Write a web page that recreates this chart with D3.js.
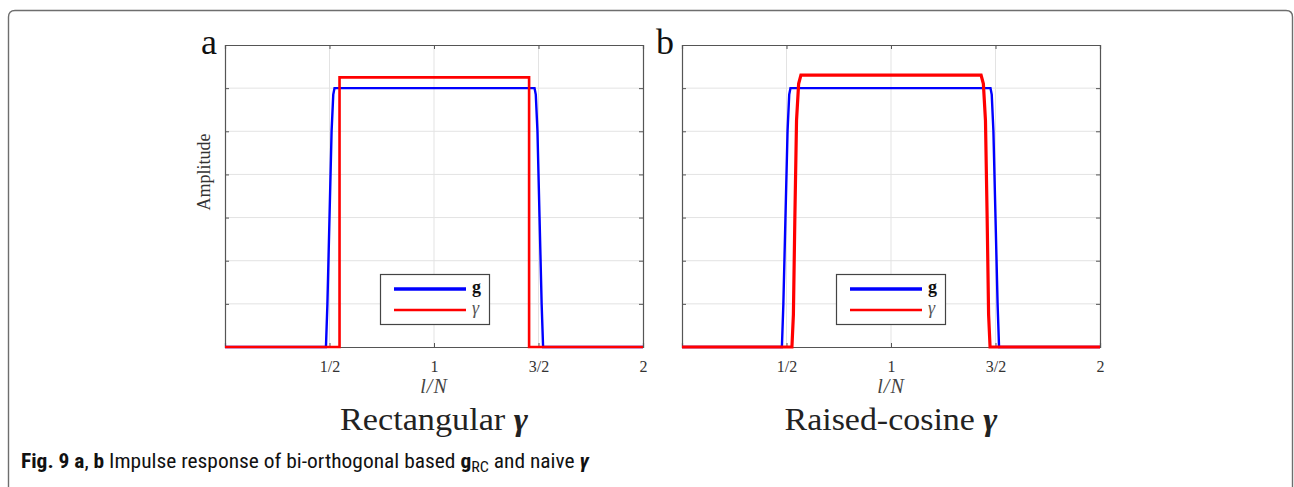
<!DOCTYPE html>
<html>
<head>
<meta charset="utf-8">
<script src="https://cdn.jsdelivr.net/npm/d3@7"></script>
<style>
	body { margin: 0; background: #fff; }
	svg { display: block; }
</style>
</head>
<body>
<script>

// ---- data ----
var xTicks = [0.5, 1, 1.5, 2]
var xTickLabels = ["1/2", "1", "3/2", "2"]
var yTicks = [0, 0.2, 0.4, 0.6, 0.8, 1.0, 1.2, 1.4]

// panel a : bi-orthogonal g vs rectangular gamma
var gA_x = [0, 0.483, 0.490, 0.500, 0.510, 0.518, 0.524, 1.481, 1.487, 1.495, 1.505, 1.515, 1.522, 2]
var gA_y = [0, 0, 0.2, 0.6, 1.0, 1.17, 1.2, 1.2, 1.17, 1.0, 0.6, 0.2, 0, 0]
var gammaA_x = [0, 0.548, 0.548, 1.455, 1.455, 2]
var gammaA_y = [0, 0, 1.25, 1.25, 0, 0]

// panel b : bi-orthogonal g vs raised-cosine gamma
var gB_x = [0, 0.478, 0.485, 0.495, 0.505, 0.513, 0.519, 1.476, 1.482, 1.490, 1.500, 1.510, 1.517, 2]
var gB_y = [0, 0, 0.2, 0.6, 1.0, 1.17, 1.2, 1.2, 1.17, 1.0, 0.6, 0.2, 0, 0]
var gammaB_x = [0, 0.526, 0.533, 0.540, 0.548, 0.558, 0.569, 1.431, 1.442, 1.452, 1.460, 1.467, 1.474, 2]
var gammaB_y = [0, 0, 0.15, 0.6, 1.05, 1.22, 1.26, 1.26, 1.22, 1.05, 0.6, 0.15, 0, 0]

var seriesNames = ["g", "\u03b3"]
var panelLetters = ["a", "b"]
var panelTitles = ["Rectangular", "Raised-cosine"]

// ---- layout ----
var svgWidth = 1294
var svgHeight = 487
var serif = "'Liberation Serif', 'DejaVu Serif', serif"

var svg = d3.select("body").append("svg")
	.attr("width", svgWidth)
	.attr("height", svgHeight)

// outer frame of the figure box
svg.append("path")
	.attr("d", "M8.5,487 L8.5,17 Q8.5,10.5 15,10.5 L1286,10.5 Q1292.5,10.5 1292.5,17 L1292.5,487")
	.style("fill", "none")
	.style("stroke", "#6e6e6e")
	.style("stroke-width", 1.4)

var y = d3.scaleLinear().domain([0, 1.4]).range([347, 45])

function zip(xs, ys) {
	return xs.map(function(d, i) { return [d, ys[i]] })
}

function drawPanel(left, idx, gX, gY, gamX, gamY, redWidth, legendX, titleLen) {
	var right = left + 418
	var x = d3.scaleLinear().domain([0, 2]).range([left, right])
	var g = svg.append("g")

	// grid
	g.append("g").selectAll("line").data(xTicks.slice(0, 3)).enter().append("line")
		.attr("x1", function(d) { return x(d) }).attr("x2", function(d) { return x(d) })
		.attr("y1", y(0)).attr("y2", y(1.4))
		.style("stroke", "#e3e3e3").style("stroke-width", 1)
	g.append("g").selectAll("line").data(yTicks.slice(1, 7)).enter().append("line")
		.attr("x1", left).attr("x2", right)
		.attr("y1", function(d) { return y(d) }).attr("y2", function(d) { return y(d) })
		.style("stroke", "#e3e3e3").style("stroke-width", 1)

	// axes box with inward ticks
	var axes = [
		[d3.axisBottom(x).tickValues(xTicks).tickSize(-4).tickFormat(function(d, i) { return xTickLabels[i] }), "translate(0," + y(0) + ")"],
		[d3.axisTop(x).tickValues(xTicks).tickSize(-4).tickFormat(""), "translate(0," + y(1.4) + ")"],
		[d3.axisLeft(y).tickValues(yTicks).tickSize(-4).tickFormat(""), "translate(" + left + ",0)"],
		[d3.axisRight(y).tickValues(yTicks).tickSize(-4).tickFormat(""), "translate(" + right + ",0)"]
	]
	axes.forEach(function(a, i) {
		var ax = g.append("g").attr("transform", a[1]).call(a[0])
		ax.select(".domain").style("stroke", "#555").style("stroke-width", 1.2)
		ax.selectAll(".tick line").style("stroke", "#555")
		if (i == 0) {
			ax.selectAll(".tick text")
				.attr("y", 25).attr("dy", null)
				.style("font-family", serif)
				.style("font-size", "16px")
				.style("fill", "#333")
		}
	})

	var line = d3.line()
		.x(function(d) { return x(d[0]) })
		.y(function(d) { return y(d[1]) })

	g.append("path").datum(zip(gX, gY))
		.attr("d", line)
		.style("fill", "none").style("stroke", "#0000ff").style("stroke-width", 2.4)
	g.append("path").datum(zip(gamX, gamY))
		.attr("d", line)
		.style("fill", "none").style("stroke", "#ff0000").style("stroke-width", redWidth)

	// legend
	var lg = g.append("g").attr("transform", "translate(" + legendX + ",274)")
	lg.append("rect").attr("x", 0.5).attr("y", 0.5).attr("width", 109).attr("height", 50)
		.style("fill", "#fff").style("stroke", "#444").style("stroke-width", 1.2)
	lg.append("line").attr("x1", 14).attr("x2", 86).attr("y1", 15).attr("y2", 15)
		.style("stroke", "#0000ff").style("stroke-width", 3.5)
	lg.append("line").attr("x1", 14).attr("x2", 86).attr("y1", 36).attr("y2", 36)
		.style("stroke", "#ff0000").style("stroke-width", 2.5)
	lg.append("text").attr("x", 92).attr("y", 19).text(seriesNames[0])
		.style("font-family", serif).style("font-weight", "bold").style("font-size", "18px").style("fill", "#111")
	lg.append("text").attr("x", 92).attr("y", 40).text(seriesNames[1])
		.style("font-family", serif).style("font-style", "italic").style("font-size", "18px").style("fill", "#555")

	// labels
	g.append("text").attr("x", left - 8).attr("y", 54).attr("text-anchor", "end")
		.text(panelLetters[idx])
		.style("font-family", serif).style("font-size", "36px").style("fill", "#111")
	g.append("text").attr("x", x(1)).attr("y", 393).attr("text-anchor", "middle")
		.text("l/N")
		.style("font-family", serif).style("font-style", "italic").style("font-size", "20px")
		.style("letter-spacing", "1px").style("fill", "#444")
	var t = g.append("text").attr("x", x(1)).attr("y", 430).attr("text-anchor", "middle")
		.attr("textLength", titleLen).attr("lengthAdjust", "spacingAndGlyphs")
		.style("font-family", serif).style("font-size", "31px").style("fill", "#222")
	t.append("tspan").text(panelTitles[idx] + " ")
	t.append("tspan").text("\u03b3").style("font-weight", "bold").style("font-style", "italic")

	return g
}

drawPanel(225, 0, gA_x, gA_y, gammaA_x, gammaA_y, 2.6, 380, 188)
drawPanel(682, 1, gB_x, gB_y, gammaB_x, gammaB_y, 3.2, 836, 213)

// y label only on the left panel
svg.append("text")
	.attr("transform", "translate(210,172) rotate(-90)")
	.attr("text-anchor", "middle")
	.text("Amplitude")
	.style("font-family", serif).style("font-size", "18px").style("fill", "#333")

// caption
var cap = svg.append("text")
	.attr("x", 21).attr("y", 468)
	.attr("textLength", 568).attr("lengthAdjust", "spacingAndGlyphs")
	.style("font-family", "'Liberation Sans Narrow', 'Roboto Condensed', 'Open Sans', sans-serif")
	.style("font-size", "20px")
	.style("fill", "#111")
cap.append("tspan").text("Fig. 9 a").style("font-weight", "bold")
cap.append("tspan").text(", ")
cap.append("tspan").text("b").style("font-weight", "bold")
cap.append("tspan").text(" Impulse response of bi-orthogonal based ")
cap.append("tspan").text("g").style("font-weight", "bold")
cap.append("tspan").text("RC").attr("dy", 4).style("font-size", "15px")
cap.append("tspan").text(" and naive ").attr("dy", -4)
cap.append("tspan").text("\u03b3").style("font-weight", "bold").style("font-style", "italic")

</script>
</body>
</html>
